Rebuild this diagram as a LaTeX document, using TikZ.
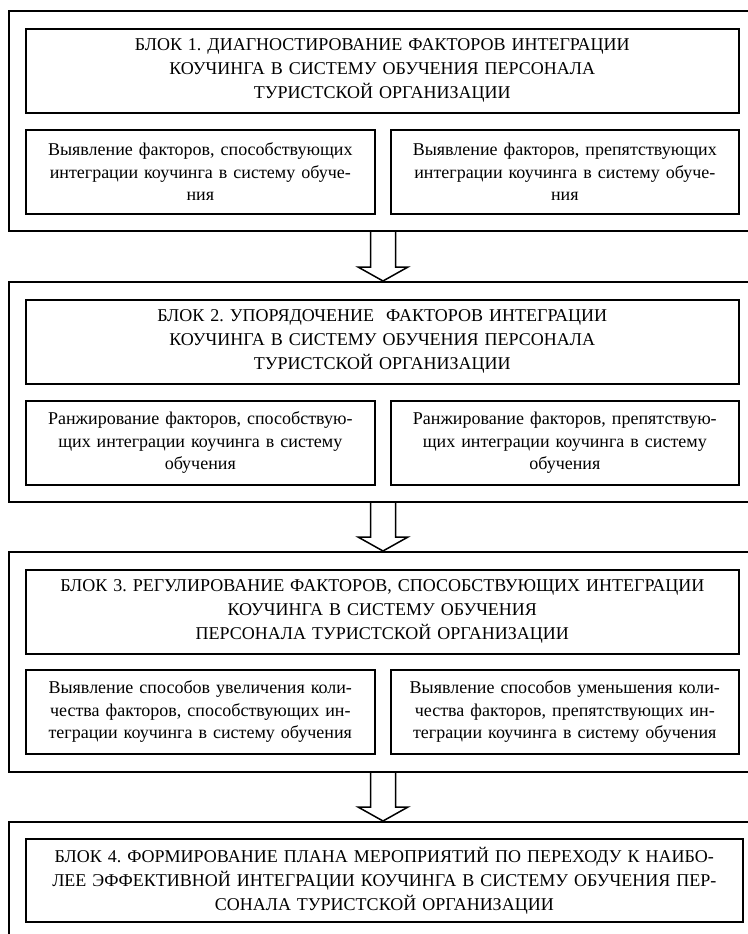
\documentclass[tikz,border=0pt]{standalone}
\usepackage{fontspec}
\setmainfont{Liberation Serif}
\frenchspacing
\usetikzlibrary{calc}
\tikzset{
  outerbox/.style={draw, line width=1.6pt, rectangle, anchor=north west, inner sep=0pt,
                   minimum width=752pt, minimum height=220pt},
  titlebox/.style={draw, line width=1.6pt, rectangle, anchor=north west, inner sep=0pt,
                   minimum width=713pt, minimum height=84pt, text width=705pt, align=center,
                   font=\fontsize{18}{24}\selectfont},
  subbox/.style={draw, line width=1.6pt, rectangle, anchor=north west, inner sep=0pt,
                 minimum height=84pt, align=center,
                 font=\fontsize{18}{22.5}\selectfont},
  subl/.style={subbox, minimum width=349pt, text width=340pt},
  subr/.style={subbox, minimum width=348pt, text width=340pt},
  arrowline/.style={draw, line width=1.5pt, line join=miter}
}
\newcommand\bigarrow[2]{%
  \path (#1.south -| ax) coordinate (s#1) (#2.north -| ax) coordinate (e#1);
  \draw[arrowline] ($(s#1)+(-12.5,0)$) -- ($(e#1)+(-12.5,-14)$) -- ($(e#1)+(-25,-14)$) -- (e#1)
     -- ($(e#1)+(25,-14)$) -- ($(e#1)+(12.5,-14)$) -- ($(s#1)+(12.5,0)$);}
\begin{document}
\begin{tikzpicture}[x=1pt,y=-1pt]
\useasboundingbox (0,0) rectangle (747,934);
\coordinate (ax) at (383,0);
% Block 1
\node[outerbox] (o1) at (8,10) {};
\node[titlebox] (t1) at (25,28) {БЛОК 1. ДИАГНОСТИРОВАНИЕ ФАКТОРОВ ИНТЕГРАЦИИ\\КОУЧИНГА В СИСТЕМУ ОБУЧЕНИЯ ПЕРСОНАЛА\\ТУРИСТСКОЙ ОРГАНИЗАЦИИ};
\node[subl] (l1) at (25,129) {Выявление факторов, способствующих\\интеграции коучинга в систему обуче-\\ния};
\node[subr] (r1) at (390,129) {Выявление факторов, препятствующих\\интеграции коучинга в систему обуче-\\ния};
% Block 2
\node[outerbox] (o2) at (8,281) {};
\node[titlebox] (t2) at (25,299) {БЛОК 2. УПОРЯДОЧЕНИЕ\ \ ФАКТОРОВ ИНТЕГРАЦИИ\\КОУЧИНГА В СИСТЕМУ ОБУЧЕНИЯ ПЕРСОНАЛА\\ТУРИСТСКОЙ ОРГАНИЗАЦИИ};
\node[subl] (l2) at (25,400) {Ранжирование факторов, способствую-\\щих интеграции коучинга в систему\\обучения};
\node[subr] (r2) at (390,400) {Ранжирование факторов, препятствую-\\щих интеграции коучинга в систему\\обучения};
% Block 3
\node[outerbox] (o3) at (8,551) {};
\node[titlebox] (t3) at (25,569) {БЛОК 3. РЕГУЛИРОВАНИЕ ФАКТОРОВ, СПОСОБСТВУЮЩИХ ИНТЕГРАЦИИ\\КОУЧИНГА В СИСТЕМУ ОБУЧЕНИЯ\\ПЕРСОНАЛА ТУРИСТСКОЙ ОРГАНИЗАЦИИ};
\node[subl] (l3) at (25,669) {Выявление способов увеличения коли-\\чества факторов, способствующих ин-\\теграции коучинга в систему обучения};
\node[subr] (r3) at (390,669) {Выявление способов уменьшения коли-\\чества факторов, препятствующих ин-\\теграции коучинга в систему обучения};
% Block 4
\node[outerbox, minimum height=140pt] (o4) at (8,821) {};
\node[titlebox, minimum width=717pt, text width=712pt, minimum height=83pt] (t4) at (25,838) {БЛОК 4. ФОРМИРОВАНИЕ ПЛАНА МЕРОПРИЯТИЙ ПО ПЕРЕХОДУ К НАИБО-\\ЛЕЕ ЭФФЕКТИВНОЙ ИНТЕГРАЦИИ КОУЧИНГА В СИСТЕМУ ОБУЧЕНИЯ ПЕР-\\СОНАЛА ТУРИСТСКОЙ ОРГАНИЗАЦИИ};
% Arrows
\bigarrow{o1}{o2}
\bigarrow{o2}{o3}
\bigarrow{o3}{o4}
\end{tikzpicture}
\end{document}
